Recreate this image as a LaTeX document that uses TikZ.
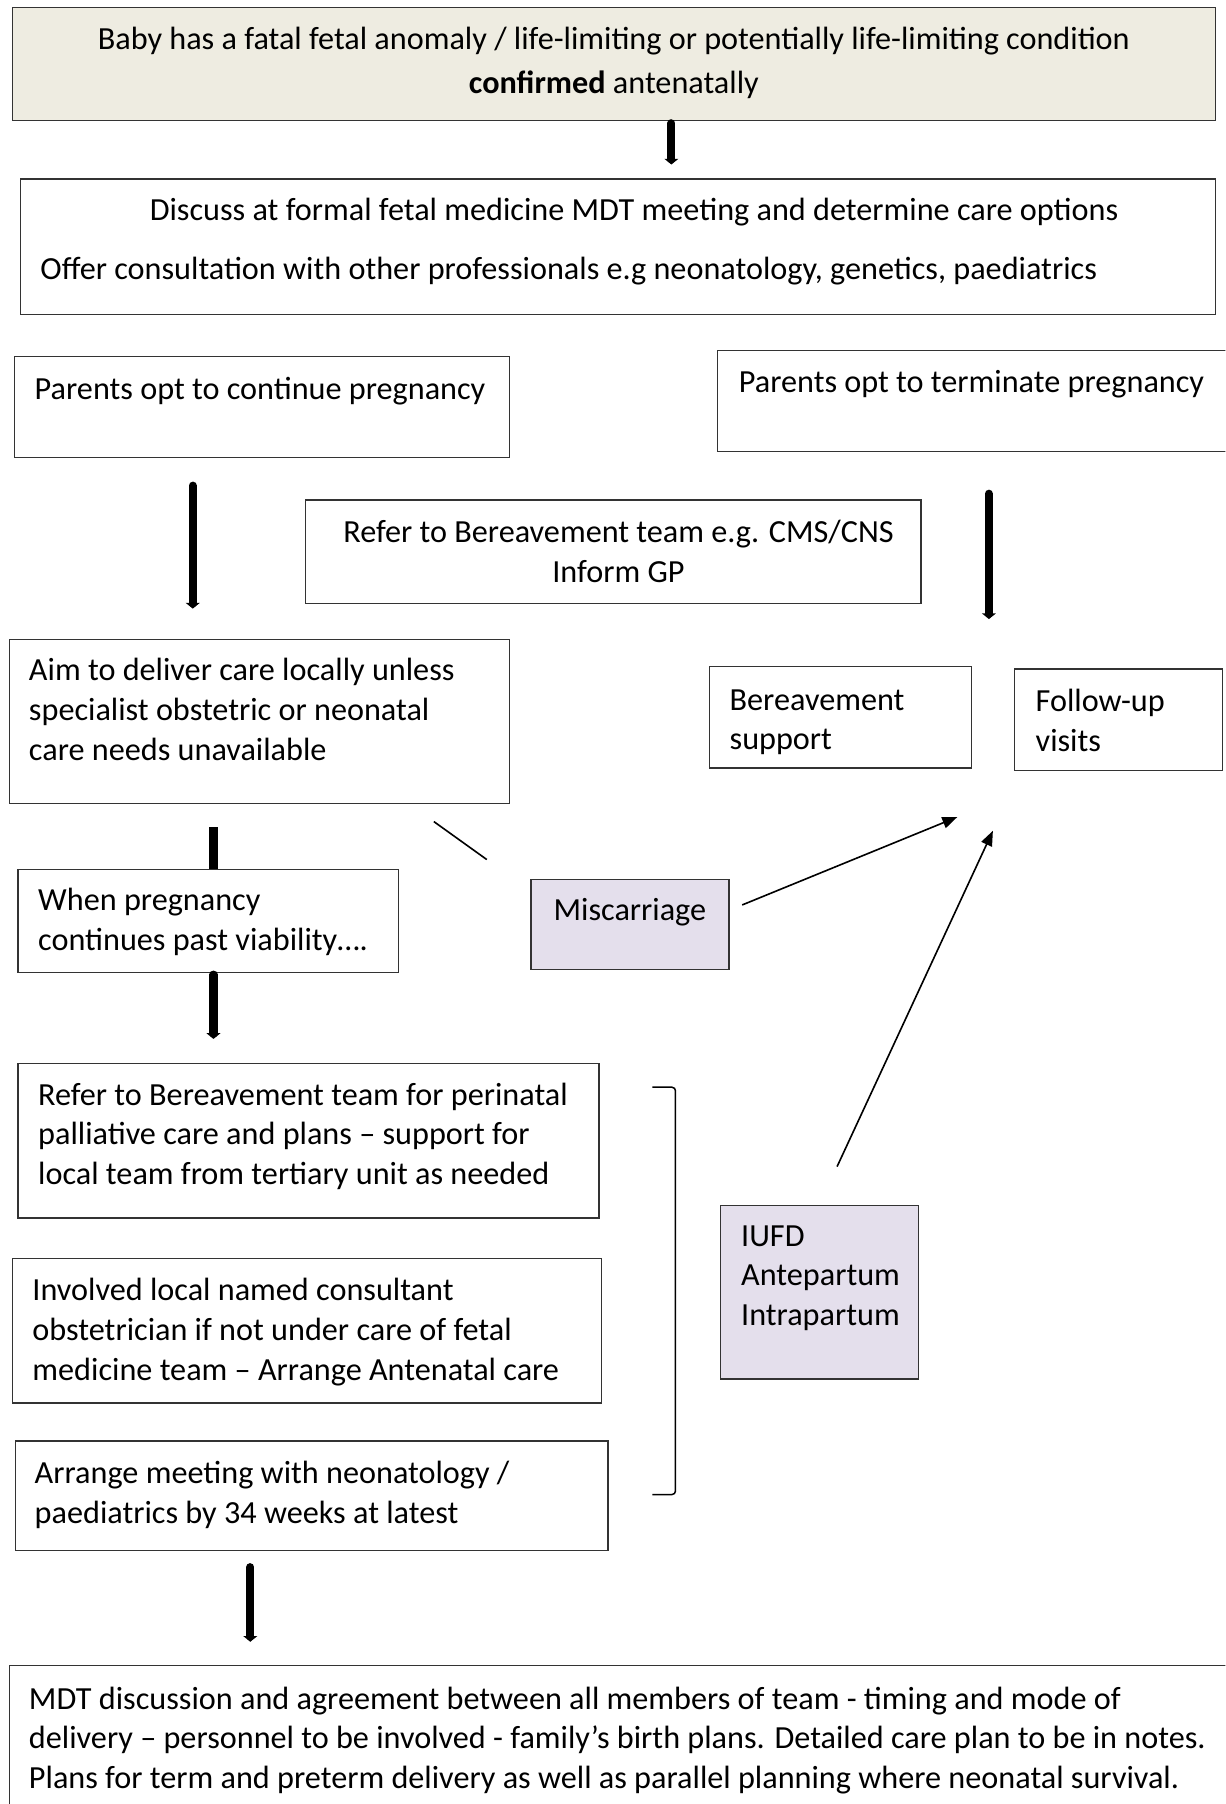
\documentclass[tikz,border=0pt]{standalone}
\usepackage{fontspec}
\setmainfont{Carlito}
\usetikzlibrary{arrows.meta}

\definecolor{headfill}{HTML}{EEECE1}
\definecolor{lossfill}{HTML}{E4DFEC}

\begin{document}
\begin{tikzpicture}[
	x = 1pt, y = -1pt,
	every node/.style = {font = \fontsize{28}{34.5}\selectfont},
	box/.style = {draw = black!80, line width = 1.1pt, anchor = north west, fill = white, inner sep = 0pt},
	txt/.style = {anchor = north west, inner sep = 0pt, align = left, execute at begin node = \strut},
	fat/.style = {line width = 7pt, line cap = round, -{Triangle[length = 5pt, width = 12pt]}},
	thin/.style = {line width = 1.4pt, -{Triangle[length = 13pt, width = 10pt]}}
	]

	\useasboundingbox (0,0) rectangle (1065,1568);
	\clip (0,0) rectangle (1065,1568);

	\node[box, fill = headfill, minimum width = 1046, minimum height = 98] (top) at (10,6) {};
	\node[txt, anchor = north, align = center] (top-t) at ([shift = {(0,17)}]top.north) {Baby has a fatal fetal anomaly / life-limiting or potentially life-limiting condition\\[4.5pt]\textbf{confirmed} antenatally};

	\node[box, minimum width = 1039, minimum height = 118] (mdt) at (17,155) {};
	\node[txt] (mdt-t) at ([shift = {(18,17)}]mdt.north west) {\hspace*{95pt}Discuss at formal fetal medicine MDT meeting and determine care options\\[16.5pt]Offer consultation with other professionals e.g neonatology, genetics, paediatrics};

	\node[box, minimum width = 430, minimum height = 88] (cont) at (12,309) {};
	\node[txt] (cont-t) at ([shift = {(18,14)}]cont.north west) {Parents opt to continue pregnancy};

	\node[box, minimum width = 450, minimum height = 88] (term) at (623,304) {};
	\node[txt] (term-t) at ([shift = {(19,13)}]term.north west) {Parents opt to terminate pregnancy};

	\node[box, minimum width = 535, minimum height = 90] (refer) at (265,434) {};
	\node[txt, anchor = north, align = center] (refer-t) at ([shift = {(4.5,18)}]refer.north) {Refer to Bereavement team e.g. CMS/CNS\\Inform GP};

	\node[box, minimum width = 434, minimum height = 143] (aim) at (8,555) {};
	\node[txt] (aim-t) at ([shift = {(17,17)}]aim.north west) {Aim to deliver care locally unless\\specialist obstetric or neonatal\\care needs unavailable};

	\node[box, minimum width = 228, minimum height = 88] (bsup) at (616,579) {};
	\node[txt] (bsup-t) at ([shift = {(18,20)}]bsup.north west) {Bereavement\\support};

	\node[box, minimum width = 181, minimum height = 88] (follow) at (881,581) {};
	\node[txt] (follow-t) at ([shift = {(19,18)}]follow.north west) {Follow-up\\visits};

	\node[box, minimum width = 331, minimum height = 90] (viab) at (15,755) {};
	\node[txt] (viab-t) at ([shift = {(18,17)}]viab.north west) {When pregnancy\\continues past viability….};

	\node[box, fill = lossfill, minimum width = 172, minimum height = 78] (misc) at (461,764) {};
	\node[txt] (misc-t) at ([shift = {(20,12)}]misc.north west) {Miscarriage};

	\node[box, minimum width = 505, minimum height = 134] (peri) at (15,924) {};
	\node[txt] (peri-t) at ([shift = {(18,17)}]peri.north west) {Refer to Bereavement team for perinatal\\palliative care and plans – support for\\local team from tertiary unit as needed};

	\node[box, fill = lossfill, minimum width = 172, minimum height = 151] (iufd) at (626,1047) {};
	\node[txt] (iufd-t) at ([shift = {(18,18)}]iufd.north west) {IUFD\\Antepartum\\Intrapartum};

	\node[box, minimum width = 512, minimum height = 126] (cons) at (10,1093) {};
	\node[txt] (cons-t) at ([shift = {(18,18)}]cons.north west) {Involved local named consultant\\obstetrician if not under care of fetal\\medicine team – Arrange Antenatal care};

	\node[box, minimum width = 515, minimum height = 95] (neo) at (13,1252) {};
	\node[txt] (neo-t) at ([shift = {(17,18)}]neo.north west) {Arrange meeting with neonatology /\\paediatrics by 34 weeks at latest};

	\node[box, minimum width = 1070, minimum height = 140] (final) at (8,1447) {};
	\node[txt] (final-t) at ([shift = {(17,19)}]final.north west) {MDT discussion and agreement between all members of team - timing and mode of\\delivery – personnel to be involved - family’s birth plans. Detailed care plan to be in notes.\\Plans for term and preterm delivery as well as parallel planning where neonatal survival.};

	\draw[fat] ([shift = {(50,2)}]top.south) -- ([shift = {(46.5,-12)}]mdt.north);
	\draw[fat] ([shift = {(-60,24)}]cont.south) -- ([shift = {(-58,-26)}]aim.north);
	\draw[fat] ([shift = {(11,36)}]term.south) -- ([shift = {(11,145)}]term.south);
	\draw[fat, -, line cap = butt] ([shift = {(-40,20)}]aim.south) -- ([shift = {(4.5,0)}]viab.north);
	\draw[fat] ([shift = {(4.5,1)}]viab.south) -- ([shift = {(-82.5,-21)}]peri.north);
	\draw[fat] ([shift = {(-53.5,14)}]neo.south) -- ([shift = {(-326,-20)}]final.north);

	\draw[line width = 1.4pt] ([shift = {(-66,15)}]aim.south east) -- ++(46,33);
	\draw[thin] ([shift = {(11,-17)}]misc.east) -- ([shift = {(-13,42)}]bsup.south east);
	\draw[thin] ([shift = {(15,-33)}]iufd.north) -- ([shift = {(-18,52)}]follow.south west);

	\draw[line width = 1.3pt, rounded corners = 3pt] ([shift = {(46,21)}]peri.north east) -- ++(20,0) -- ++(0,354) -- ++(-20,0);

\end{tikzpicture}
\end{document}
